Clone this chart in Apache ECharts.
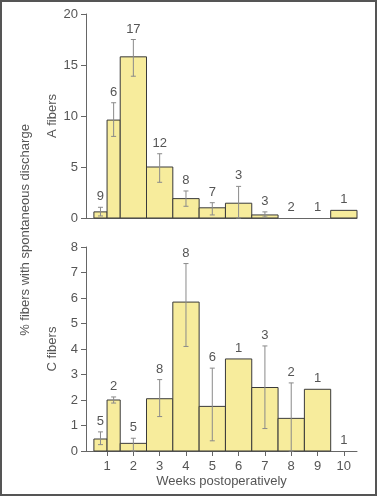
<!DOCTYPE html>
<html>
<head>
<meta charset="utf-8">
<script src="https://cdn.jsdelivr.net/npm/echarts@6/dist/echarts.min.js"></script>
<style>
  html, body { margin: 0; padding: 0; background: #fff; }
  #chart { width: 377px; height: 496px; }
</style>
</head>
<body>
<div id="chart"></div>
<script>
// bins (weeks) - week 1 is split in two halves
const binStart = [0.5, 1.0, 1.5, 2.5, 3.5, 4.5, 5.5, 6.5, 7.5, 8.5, 9.5];
const binEnd   = [1.0, 1.5, 2.5, 3.5, 4.5, 5.5, 6.5, 7.5, 8.5, 9.5, 10.5];
const weekTicks = [1, 2, 3, 4, 5, 6, 7, 8, 9, 10];

// A fibers
const aValues = [0.6, 9.6, 15.8, 5.0, 1.9, 1.0, 1.45, 0.3, 0, 0, 0.75];
const aLow    = [0.2, 8.0, 13.9, 3.5, 1.15, 0.3, 0, 0.1, null, null, null];
const aHigh   = [1.05, 11.3, 17.5, 6.3, 2.65, 1.5, 3.1, 0.6, null, null, null];
const aN      = ['9', '6', '17', '12', '8', '7', '3', '3', '2', '1', '1'];

// C fibers
const cValues = [0.47, 2.0, 0.3, 2.05, 5.84, 1.75, 3.61, 2.49, 1.28, 2.42, 0];
const cLow    = [0.25, 1.88, 0, 1.35, 4.1, 0.4, null, 0.88, 0, null, null];
const cHigh   = [0.75, 2.12, 0.5, 2.8, 7.35, 3.25, null, 4.12, 2.67, null, null];
const cN      = ['5', '2', '5', '8', '8', '6', '1', '3', '2', '1', '1'];

const barFill = '#f7ec9c';
const barLine = '#3a3a3a';
const errColor = '#8a8a8a';
const txt = '#555';
const font = '13px "Liberation Sans", Arial, sans-serif';

function barItem(params, api) {
  const v = api.value(2);
  if (!v) return null;
  const p0 = api.coord([api.value(0), v]);
  const p1 = api.coord([api.value(1), 0]);
  return {
    type: 'rect',
    shape: { x: p0[0], y: p0[1], width: p1[0] - p0[0], height: p1[1] - p0[1] },
    style: { fill: barFill, stroke: barLine, lineWidth: 1 }
  };
}

function errItem(params, api) {
  const lo = api.value(1), hi = api.value(2);
  if (isNaN(lo) || isNaN(hi)) return null;
  const a = api.coord([api.value(0), hi]);
  const b = api.coord([api.value(0), lo]);
  const s = { stroke: errColor, lineWidth: 1 };
  return {
    type: 'group',
    children: [
      { type: 'line', shape: { x1: a[0], y1: a[1], x2: b[0], y2: b[1] }, style: s },
      { type: 'line', shape: { x1: a[0] - 2.5, y1: a[1], x2: a[0] + 2.5, y2: a[1] }, style: s },
      { type: 'line', shape: { x1: b[0] - 2.5, y1: b[1], x2: b[0] + 2.5, y2: b[1] }, style: s }
    ]
  };
}

function labelRenderer(n) {
  return function (params, api) {
    const p = api.coord([api.value(0), api.value(1)]);
    return { type: 'text', x: p[0], y: p[1] - 4,
      style: { text: n[params.dataIndex], fill: txt, font: font,
        align: 'center', verticalAlign: 'bottom' } };
  };
}

function makeSeries(values, low, high, n, idx) {
  const bars = [], errs = [], labels = [];
  for (let i = 0; i < values.length; i++) {
    const mid = (binStart[i] + binEnd[i]) / 2;
    bars.push([binStart[i], binEnd[i], values[i]]);
    errs.push([mid, low[i] == null ? '-' : low[i], high[i] == null ? '-' : high[i]]);
    const top = Math.max(values[i], high[i] == null ? 0 : high[i]);
    labels.push([mid, top]);
  }
  return [
    { type: 'custom', xAxisIndex: idx, yAxisIndex: idx, renderItem: barItem, data: bars, z: 2 },
    { type: 'custom', xAxisIndex: idx, yAxisIndex: idx, renderItem: errItem, data: errs, z: 3 },
    { type: 'custom', xAxisIndex: idx, yAxisIndex: idx, renderItem: labelRenderer(n), data: labels, z: 4 }
  ];
}

const axisFont = { color: txt, fontSize: 13, fontFamily: '"Liberation Sans", Arial, sans-serif' };

const option = {
  animation: false,
  grid: [
    { left: 86, top: 14, width: 271, height: 204 },
    { left: 86, top: 247, width: 271, height: 204 }
  ],
  xAxis: [
    { type: 'value', gridIndex: 0, min: 0.2, max: 10.5, splitLine: { show: false },
      axisLine: { lineStyle: { color: '#666' } }, axisTick: { show: false }, axisLabel: { show: false } },
    { type: 'value', gridIndex: 1, min: 0.2, max: 10.5, splitLine: { show: false },
      axisLine: { lineStyle: { color: '#666' } },
      axisTick: { customValues: weekTicks, length: 5, lineStyle: { color: '#666' } },
      axisLabel: Object.assign({ customValues: weekTicks, margin: 9 }, axisFont),
      name: 'Weeks postoperatively', nameLocation: 'middle', nameGap: 24,
      nameMoveOverlap: false, nameTextStyle: axisFont }
  ],
  yAxis: [
    { type: 'value', gridIndex: 0, min: 0, max: 20, interval: 5, splitLine: { show: false },
      axisLine: { show: true, lineStyle: { color: '#666' } },
      axisTick: { show: true, length: 5, lineStyle: { color: '#666' } },
      axisLabel: Object.assign({ margin: 8 }, axisFont),
      name: 'A fibers', nameLocation: 'middle', nameGap: 27, nameMoveOverlap: false,
      nameTextStyle: axisFont },
    { type: 'value', gridIndex: 1, min: 0, max: 8, interval: 1, splitLine: { show: false },
      axisLine: { show: true, lineStyle: { color: '#666' } },
      axisTick: { show: true, length: 5, lineStyle: { color: '#666' } },
      axisLabel: Object.assign({ margin: 8 }, axisFont),
      name: 'C fibers', nameLocation: 'middle', nameGap: 27, nameMoveOverlap: false,
      nameTextStyle: axisFont }
  ],
  graphic: [
    { type: 'rect', shape: { x: 1, y: 1, width: 375, height: 494 },
      style: { fill: 'none', stroke: '#555', lineWidth: 2 }, z: 10 },
    { type: 'text', x: 25, y: 230, rotation: Math.PI / 2,
      style: { text: '% fibers with spontaneous discharge', fill: txt,
        font: font, align: 'center', verticalAlign: 'middle' } }
  ],
  series: [].concat(
    makeSeries(aValues, aLow, aHigh, aN, 0),
    makeSeries(cValues, cLow, cHigh, cN, 1)
  )
};

echarts.init(document.getElementById('chart'), null, { renderer: 'canvas' }).setOption(option);
</script>
</body>
</html>
